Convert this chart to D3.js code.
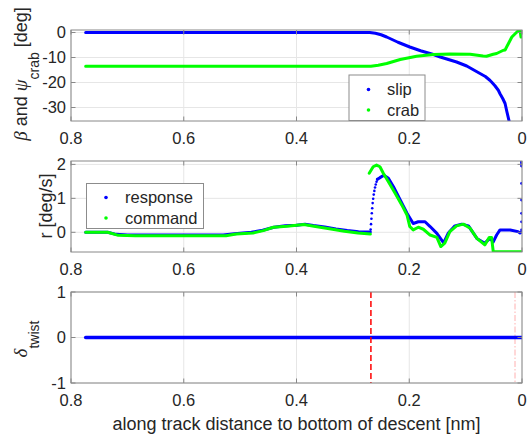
<!DOCTYPE html>
<html>
<head>
<meta charset="utf-8">
<script src="https://cdn.jsdelivr.net/npm/d3@7"></script>
<style>
  body { margin: 0; background: #fff; }
  svg text { font-family: 'Liberation Sans', Arial, Helvetica, sans-serif; fill: #262626; }
</style>
</head>
<body>
<svg id="chart" width="528" height="436"></svg>
<script>
// ---- data ----
var xTicks = [0.8, 0.6, 0.4, 0.2, 0];
var yTicksTop = [-30, -20, -10, 0];
var yTicksMid = [0, 1, 2];
var yTicksBot = [-1, 0, 1];

// top panel: slip (beta) and crab (psi_crab), deg
var slipX = [0.774, 0.27, 0.26, 0.25, 0.24, 0.22, 0.199, 0.18, 0.157, 0.145, 0.116, 0.098, 0.080, 0.065, 0.057, 0.054, 0.048, 0.042, 0.039, 0.034, 0.030, 0.027, 0.0225];
var slipY = [0, 0, -0.3, -0.9, -1.8, -3.9, -5.8, -7.3, -8.8, -9.8, -11.8, -13.4, -15.7, -17.6, -19.1, -19.8, -21.3, -23.1, -24.5, -26.5, -28.4, -31.5, -35.8];
var crabX = [0.774, 0.268, 0.255, 0.24, 0.216, 0.187, 0.157, 0.128, 0.092, 0.069, 0.063, 0.051, 0.045, 0.033, 0.030, 0.021, 0.018, 0.009, 0.005, 0.0035, 0.0018, 0.0];
var crabY = [-13.5, -13.5, -13.1, -12.4, -10.8, -9.5, -8.8, -8.6, -8.7, -9.4, -9.5, -8.7, -8.4, -7.1, -7.0, -3.1, -1.8, 0.2, 0.9, 0.9, -1.8, 0.2];

// middle panel: yaw rate r, deg/s
var responseX = [0.774, 0.735, 0.72, 0.70, 0.60, 0.53, 0.51, 0.48, 0.46, 0.44, 0.42, 0.40, 0.385, 0.37, 0.35, 0.33, 0.31, 0.29, 0.269];
var responseY = [0, 0, -0.06, -0.08, -0.08, -0.08, -0.04, 0, 0.06, 0.15, 0.19, 0.21, 0.24, 0.2, 0.16, 0.1, 0.05, 0.02, 0.01];
var responseJumpX = [0.2685, 0.2678, 0.2671, 0.2664, 0.2657, 0.2649, 0.2640, 0.2630, 0.2619, 0.2607, 0.2594, 0.2580, 0.2565];
var responseJumpY = [0.08, 0.24, 0.40, 0.56, 0.71, 0.86, 0.99, 1.11, 1.22, 1.32, 1.41, 1.49, 1.56];
var responseTailX = [0.2565, 0.252, 0.245, 0.237, 0.228, 0.216, 0.204, 0.193, 0.184, 0.172, 0.163, 0.151, 0.139, 0.131, 0.119, 0.107, 0.095, 0.080, 0.066, 0.057, 0.051, 0.045, 0.039, 0.021, 0.007, 0.0035, 0.0015];
var responseTailY = [1.56, 1.61, 1.68, 1.59, 1.34, 0.95, 0.56, 0.26, 0.31, 0.31, 0.17, -0.03, -0.31, -0.03, 0.19, 0.24, 0.19, -0.18, -0.32, -0.18, -0.28, -0.08, 0.07, 0.07, 0.02, -0.02, 0.0];
var responseEndX = [0.0008, 0.0008, 0.0008, 0.0008, 0.0008, 0.0008, 0.0008, 0.0008, 0.0008];
var responseEndY = [0.07, 0.31, 0.56, 0.95, 1.44, 1.95, 2.0, 2.05, 2.08];
var commandX = [0.774, 0.735, 0.716, 0.686, 0.60, 0.525, 0.507, 0.477, 0.459, 0.441, 0.417, 0.387, 0.369, 0.339, 0.315, 0.291, 0.269];
var commandY = [0, 0, -0.09, -0.1, -0.1, -0.1, -0.05, -0.02, 0.05, 0.15, 0.18, 0.23, 0.18, 0.1, 0.03, -0.02, -0.05];
var commandTailX = [0.271, 0.264, 0.258, 0.252, 0.246, 0.237, 0.225, 0.213, 0.204, 0.199, 0.193, 0.184, 0.175, 0.163, 0.151, 0.144, 0.137, 0.128, 0.116, 0.104, 0.092, 0.080, 0.066, 0.058, 0.054, 0.051, 0.0];
var commandTailY = [1.74, 1.93, 1.98, 1.93, 1.74, 1.49, 1.15, 0.80, 0.51, 0.17, 0.07, 0.15, 0.09, -0.08, -0.15, -0.42, -0.32, 0.02, 0.19, 0.24, 0.12, -0.18, -0.37, -0.15, -0.15, -0.57, -0.57];

// bottom panel: twist
var twistX = [0.774, 0];
var twistY = [0, 0];
var eventX = [0.268, 0.0124];

// ---- layout ----
var svg = d3.select('#chart');
var left = 71, right = 522, ph = 91;
var panelTops = [30, 161, 292];

var x = d3.scaleLinear().domain([0.8, 0]).range([left, right]);

function zip(xs, ys) { return xs.map(function (v, i) { return [v, ys[i]]; }); }

function makePanel(i, domain, yticks, id) {
  var top = panelTops[i];
  var y = d3.scaleLinear().domain(domain).range([top + ph, top]);
  var g = svg.append('g');
  svg.append('clipPath').attr('id', id).append('rect')
     .attr('x', left).attr('y', top).attr('width', right - left).attr('height', ph);

  // grid
  g.selectAll('.gx').data(xTicks).enter().append('line')
    .attr('x1', function (d) { return x(d); }).attr('x2', function (d) { return x(d); })
    .attr('y1', top).attr('y2', top + ph)
    .attr('stroke', '#e6e6e6').attr('stroke-width', 1);
  g.selectAll('.gy').data(yticks).enter().append('line')
    .attr('x1', left).attr('x2', right)
    .attr('y1', function (d) { return y(d); }).attr('y2', function (d) { return y(d); })
    .attr('stroke', '#e6e6e6').attr('stroke-width', 1);

  var plot = svg.append('g').attr('clip-path', 'url(#' + id + ')');
  return { y: y, top: top, plot: plot };
}

function drawFrame(p, yticks) {
  var top = p.top, y = p.y;
  var f = svg.append('g');
  var tl = 4.5;
  // inward ticks on all sides
  xTicks.forEach(function (d) {
    f.append('line').attr('x1', x(d)).attr('x2', x(d)).attr('y1', top + ph).attr('y2', top + ph - tl).attr('stroke', '#888');
    f.append('line').attr('x1', x(d)).attr('x2', x(d)).attr('y1', top).attr('y2', top + tl).attr('stroke', '#888');
  });
  yticks.forEach(function (d) {
    f.append('line').attr('x1', left).attr('x2', left + tl).attr('y1', y(d)).attr('y2', y(d)).attr('stroke', '#888');
    f.append('line').attr('x1', right).attr('x2', right - tl).attr('y1', y(d)).attr('y2', y(d)).attr('stroke', '#888');
  });
  f.append('rect').attr('x', left).attr('y', top).attr('width', right - left).attr('height', ph)
    .attr('fill', 'none').attr('stroke', '#888').attr('stroke-width', 1);

  // tick labels
  f.selectAll('.xl').data(xTicks).enter().append('text')
    .attr('x', function (d) { return x(d); }).attr('y', top + ph + 22.5)
    .attr('text-anchor', 'middle').attr('font-size', 16.5)
    .text(function (d) { return String(d); });
  f.selectAll('.yl').data(yticks).enter().append('text')
    .attr('x', 66).attr('y', function (d) { return y(d) + 5.8; })
    .attr('text-anchor', 'end').attr('font-size', 16.5)
    .text(function (d) { return String(d); });
}

function linePath(p, data, color, w) {
  var line = d3.line().x(function (d) { return x(d[0]); }).y(function (d) { return p.y(d[1]); });
  p.plot.append('path').datum(data).attr('d', line)
    .attr('fill', 'none').attr('stroke', color).attr('stroke-width', w)
    .attr('stroke-linejoin', 'round').attr('stroke-linecap', 'round');
}

function dots(p, data, color, r) {
  p.plot.selectAll(null).data(data).enter().append('circle')
    .attr('cx', function (d) { return x(d[0]); }).attr('cy', function (d) { return p.y(d[1]); })
    .attr('r', r).attr('fill', color);
}

function legend(bx, by, bw, bh, items) {
  var g = svg.append('g');
  g.append('rect').attr('x', bx).attr('y', by).attr('width', bw).attr('height', bh)
    .attr('fill', '#fff').attr('stroke', '#8c8c8c').attr('stroke-width', 1);
  items.forEach(function (it) {
    g.append('circle').attr('cx', it.mx).attr('cy', it.cy).attr('r', 1.8).attr('fill', it.color);
    g.append('text').attr('x', it.tx).attr('y', it.cy + 5.8).attr('font-size', 16.5).attr('fill', '#000').text(it.label);
  });
}

var BLUE = '#0000ff', GREEN = '#00ff00';

// top panel
var p1 = makePanel(0, [-35.4, 1], yTicksTop, 'c1');
linePath(p1, zip(slipX, slipY), BLUE, 3);
linePath(p1, zip(crabX, crabY), GREEN, 3);
drawFrame(p1, yTicksTop);
legend(349, 75, 76, 45.5, [
  { mx: 368.5, tx: 387, cy: 89.5, color: BLUE, label: 'slip' },
  { mx: 368.5, tx: 387, cy: 110, color: GREEN, label: 'crab' }
]);

// middle panel
var p2 = makePanel(1, [-0.58, 2.1], yTicksMid, 'c2');
linePath(p2, zip(responseX, responseY), BLUE, 3);
dots(p2, zip(responseJumpX, responseJumpY), BLUE, 1.3);
linePath(p2, zip(responseTailX, responseTailY), BLUE, 3);
dots(p2, zip(responseEndX, responseEndY), BLUE, 1.4);
linePath(p2, zip(commandX, commandY), GREEN, 3);
linePath(p2, zip(commandTailX, commandTailY), GREEN, 3);
drawFrame(p2, yTicksMid);
legend(86.5, 183.5, 117, 45, [
  { mx: 106, tx: 125, cy: 197.5, color: BLUE, label: 'response' },
  { mx: 106, tx: 125, cy: 218, color: GREEN, label: 'command' }
]);

// bottom panel
var p3 = makePanel(2, [-1, 1], yTicksBot, 'c3');
p3.plot.append('line').attr('x1', x(eventX[1])).attr('x2', x(eventX[1]))
  .attr('y1', p3.top).attr('y2', p3.top + ph)
  .attr('stroke', '#ffb0b0').attr('stroke-width', 1).attr('stroke-dasharray', '6,2,1.5,2');
linePath(p3, zip(twistX, twistY), BLUE, 3.5);
p3.plot.append('line').attr('x1', x(eventX[0])).attr('x2', x(eventX[0]))
  .attr('y1', p3.top).attr('y2', p3.top + ph)
  .attr('stroke', '#ff0000').attr('stroke-width', 1.5).attr('stroke-dasharray', '6,3');
drawFrame(p3, yTicksBot);

// axis labels
var serif = "'Liberation Serif', 'DejaVu Serif', serif";
var t1 = svg.append('text').attr('transform', 'translate(27,74) rotate(-90)')
  .attr('text-anchor', 'middle').attr('font-size', 18);
t1.append('tspan').attr('font-family', serif).attr('font-style', 'italic').attr('font-size', 19).text('β');
t1.append('tspan').text(' and ');
t1.append('tspan').attr('font-family', serif).attr('font-style', 'italic').attr('font-size', 19).text('ψ');
t1.append('tspan').attr('font-size', 14).attr('dy', 12).text('crab');
t1.append('tspan').attr('dy', -12).text(' [deg]');

svg.append('text').attr('transform', 'translate(52,206) rotate(-90)')
  .attr('text-anchor', 'middle').attr('font-size', 18).text('r [deg/s]');

var t3 = svg.append('text').attr('transform', 'translate(27,339) rotate(-90)')
  .attr('text-anchor', 'middle').attr('font-size', 18);
t3.append('tspan').attr('font-family', serif).attr('font-style', 'italic').attr('font-size', 19).text('δ');
t3.append('tspan').attr('font-size', 14).attr('dy', 12).text('twist');

svg.append('text').attr('x', (left + right) / 2).attr('y', 430)
  .attr('text-anchor', 'middle').attr('font-size', 18)
  .text('along track distance to bottom of descent [nm]');
</script>
</body>
</html>
